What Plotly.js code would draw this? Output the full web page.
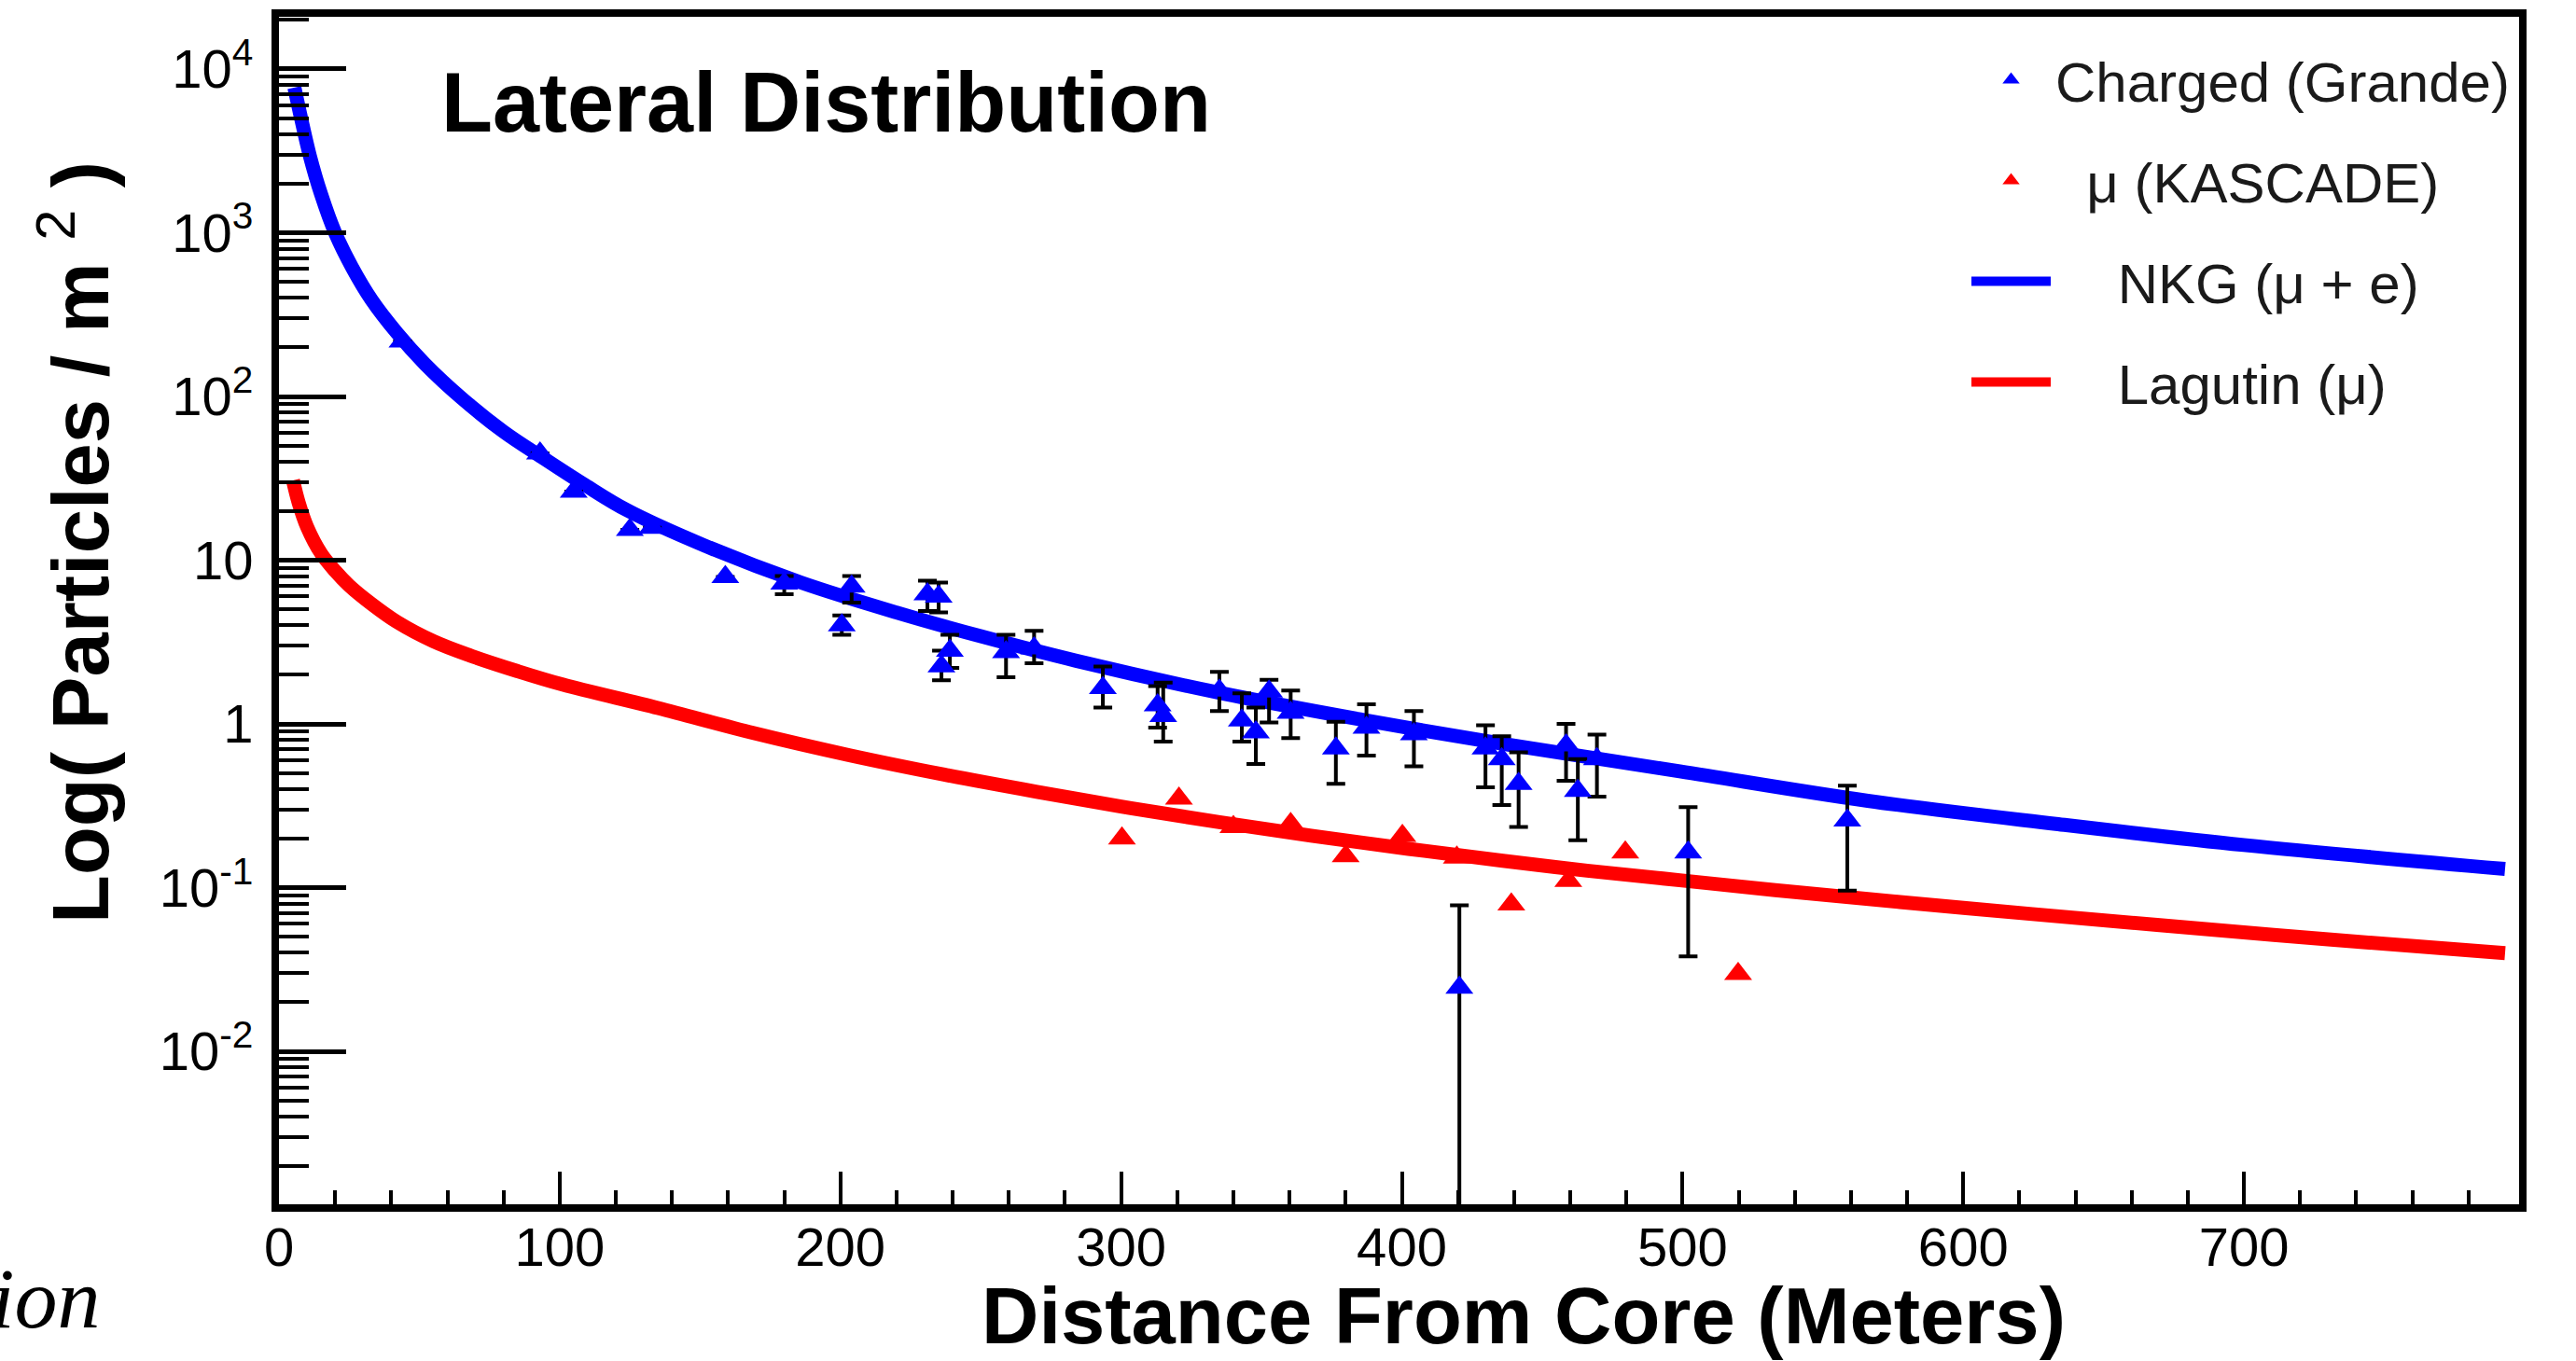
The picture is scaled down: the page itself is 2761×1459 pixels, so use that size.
<!DOCTYPE html>
<html><head><meta charset="utf-8">
<script src="https://cdn.plot.ly/plotly-3.0.1.min.js"></script>
<style>html,body{margin:0;padding:0;background:#fff;} #chart{width:2761px;height:1459px;}</style>
</head><body><div id="chart"></div>
<script>
// ---- data ----
const grandeX  = [44, 93, 105, 125, 133, 159, 180, 200.5, 204, 231, 235, 236, 239, 259, 269, 293.5, 313, 315, 335, 343, 348, 352.7, 360.4, 376.5, 387.4, 404.3, 420.5, 429.8, 435.6, 441.6, 458.5, 462.7, 469.5, 502, 558.7];
const grandeY  = [217, 45, 26.2, 15.3, 15.8, 7.9, 7.2, 4.0, 6.9, 6.2, 6.0, 2.25, 2.8, 2.75, 2.9, 1.66, 1.3, 1.12, 1.6, 1.05, 0.89, 1.58, 1.17, 0.71, 0.95, 0.865, 0.0245, 0.71, 0.61, 0.43, 0.74, 0.39, 0.61, 0.164, 0.257];
const grandeHi = [217, 45, 26.2, 15.3, 15.8, 7.9, 8.0, 4.6, 8.0, 7.5, 7.3, 2.8, 3.5, 3.5, 3.7, 2.24, 1.7, 1.79, 2.08, 1.54, 1.26, 1.86, 1.6, 1.03, 1.32, 1.2, 0.078, 0.98, 0.84, 0.67, 1.0, 0.61, 0.86, 0.31, 0.42];
const grandeLo = [217, 45, 26.2, 15.3, 15.8, 7.9, 6.2, 3.5, 5.5, 4.9, 4.8, 1.85, 2.2, 1.93, 2.35, 1.26, 0.95, 0.78, 1.2, 0.78, 0.57, 1.02, 0.82, 0.43, 0.64, 0.55, 0.0001, 0.41, 0.32, 0.235, 0.45, 0.195, 0.36, 0.038, 0.096];

const kascadeX = [300.3, 320.6, 340, 360.4, 380, 400.2, 419.6, 439, 459.3, 479.6, 519.8];
const kascadeY = [0.20, 0.35, 0.235, 0.245, 0.156, 0.207, 0.153, 0.079, 0.11, 0.164, 0.0297];

const nkgX = [5.5, 8, 11, 15, 20, 26, 33, 42, 52, 65, 80, 94, 109, 124, 152, 186, 220, 250, 284, 335, 386, 437, 499, 566, 633, 700, 793];
const nkgY = [7700, 4900, 2950, 1720, 1000, 617, 389, 245, 158, 98, 61, 42.2, 28.8, 20.2, 12.2, 7.3, 4.79, 3.43, 2.43, 1.55, 1.06, 0.75, 0.513, 0.339, 0.245, 0.182, 0.130];

const lagutinX = [5, 7, 10, 15, 20, 25, 33, 42, 55, 68, 85, 101, 135, 169, 203, 237, 270, 300, 335, 386, 436, 466, 499, 533, 601, 669, 731, 793];
const lagutinY = [30.7, 22.5, 16.0, 11.0, 8.6, 7.0, 5.4, 4.2, 3.2, 2.62, 2.1, 1.74, 1.25, 0.88, 0.645, 0.49, 0.385, 0.313, 0.251, 0.188, 0.146, 0.127, 0.111, 0.0966, 0.075, 0.0592, 0.0481, 0.0398];

const yTickVals = [0.01, 0.1, 1, 10, 100, 1000, 10000];
const yTickText = ['10<sup>-2</sup>', '10<sup>-1</sup>', '1', '10', '10<sup>2</sup>', '10<sup>3</sup>', '10<sup>4</sup>'];
const xTickVals = [0, 100, 200, 300, 400, 500, 600, 700];
const xTickText = ['0', '100', '200', '300', '400', '500', '600', '700'];

const seriesNames = ['Charged (Grande)', '\u00a0\u00a0\u03bc (KASCADE)', '\u00a0\u00a0\u00a0\u00a0NKG (\u03bc + e)', '\u00a0\u00a0\u00a0\u00a0Lagutin (\u03bc)'];

// ---- derived ----
const errPlus = grandeY.map((v, i) => grandeHi[i] - v);
const errMinus = grandeY.map((v, i) => v - grandeLo[i]);
const yMinor = [];
for (let d = -3; d <= 4; d++) for (let m = 2; m <= 9; m++) yMinor.push(m * Math.pow(10, d));

// ---- geometry ----
const W = 2761, H = 1459;
const L = 299, R = 61, T = 18, B = 168;
const pw = W - L - R, ph = H - T - B;
const px = x => (x - L) / pw;
const py = y => (H - B - y) / ph;
const FONT = 'Liberation Sans, Arial, Helvetica, sans-serif';

const traces = [
  {x: nkgX, y: nkgY, mode: 'lines', name: seriesNames[2], legendrank: 3, legendgroup: 'c',
   line: {color: '#0000ff', width: 15, shape: 'spline', smoothing: 1}},
  {x: lagutinX, y: lagutinY, mode: 'lines', name: seriesNames[3], legendrank: 4, legendgroup: 'd',
   line: {color: '#ff0000', width: 15, shape: 'spline', smoothing: 1}},
  {x: grandeX, y: grandeY, mode: 'markers', name: seriesNames[0], legendrank: 1, legendgroup: 'a',
   marker: {symbol: 'triangle-up', size: 26, color: '#0000ff', line: {width: 0}},
   error_y: {type: 'data', symmetric: false, array: errPlus, arrayminus: errMinus, color: '#000', thickness: 4, width: 10}},
  {x: kascadeX, y: kascadeY, mode: 'markers', name: seriesNames[1], legendrank: 2, legendgroup: 'b',
   marker: {symbol: 'triangle-up', size: 26, color: '#ff0000', line: {width: 0}}}
];

const layout = {
  width: W, height: H,
  margin: {l: L, r: R, t: T, b: B, pad: 0},
  paper_bgcolor: '#fff', plot_bgcolor: '#fff',
  font: {family: FONT, color: '#000', size: 58},
  showlegend: true,
  legend: {x: px(2108), y: py(40), xanchor: 'left', yanchor: 'top', bgcolor: 'rgba(0,0,0,0)',
           font: {family: FONT, size: 60, color: '#1a1a1a'}, itemwidth: 85, tracegroupgap: 27,
           traceorder: 'grouped'},
  xaxis: {range: [0, 798], showgrid: false, zeroline: false, showline: true, mirror: true,
          linecolor: '#000', linewidth: 8, ticks: 'inside', ticklen: 35, tickwidth: 4, tickcolor: '#000',
          tickmode: 'array', tickvals: xTickVals, ticktext: xTickText, ticklabelstandoff: -12,
          tickfont: {family: FONT, size: 58, color: '#000'},
          minor: {dtick: 20, ticks: 'inside', ticklen: 15, tickwidth: 4, tickcolor: '#000', showgrid: false}},
  yaxis: {type: 'log', range: [-2.934, 4.319], showgrid: false, zeroline: false, showline: true, mirror: true,
          linecolor: '#000', linewidth: 8, ticks: 'inside', ticklen: 72, tickwidth: 5, tickcolor: '#000',
          tickmode: 'array', tickvals: yTickVals, ticktext: yTickText, ticklabelstandoff: 8,
          tickfont: {family: FONT, size: 58, color: '#000'},
          minor: {tickmode: 'array', tickvals: yMinor, ticks: 'inside', ticklen: 32, tickwidth: 4, tickcolor: '#000', showgrid: false}},
  annotations: [
    {text: '<b>Lateral Distribution</b>', xref: 'paper', yref: 'paper', x: px(471), y: py(110),
     xanchor: 'left', yanchor: 'middle', showarrow: false, font: {family: FONT, size: 90, color: '#000'}},
    {text: '<b>Distance From Core (Meters)</b>', xref: 'paper', yref: 'paper', x: px(1633), y: py(1410),
     xanchor: 'center', yanchor: 'middle', showarrow: false, font: {family: FONT, size: 85, color: '#000'}},
    {text: '<b>Log( Particles / m </b><sup>2</sup><b> )</b>', xref: 'paper', yref: 'paper', x: px(80), y: py(582),
     xanchor: 'center', yanchor: 'middle', textangle: -90, showarrow: false, font: {family: FONT, size: 85, color: '#000'}},
    {text: '<i>ion</i>', xref: 'paper', yref: 'paper', x: px(110), y: py(1392),
     xanchor: 'right', yanchor: 'middle', showarrow: false, font: {family: 'Liberation Serif, Times New Roman, serif', size: 92, color: '#000'}}
  ]
};

Plotly.newPlot('chart', traces, layout, {staticPlot: true, displayModeBar: false});
</script></body></html>
